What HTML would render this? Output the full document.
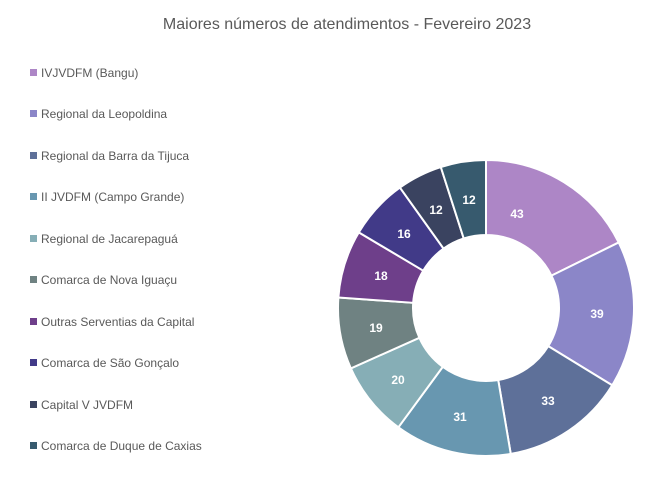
<!DOCTYPE html>
<html><head><meta charset="utf-8"><style>
body{margin:0;width:666px;height:491px;background:#fff;font-family:"Liberation Sans",sans-serif;overflow:hidden;position:relative}
.t{position:absolute;top:16px;left:0;width:666px;text-align:center;font-size:16px;color:#595959;padding-left:28px;box-sizing:border-box}
.lg{position:absolute;left:30px;font-size:12px;color:#595959}
.lg i{display:inline-block;width:7px;height:7px;margin-right:4px;vertical-align:1px}
svg{position:absolute;left:0;top:0}
</style></head><body>
<div class="t">Maiores números de atendimentos - Fevereiro 2023</div>
<div class="lg" style="top:66px"><i style="background:#AD86C6"></i>IVJVDFM (Bangu)</div>
<div class="lg" style="top:107px"><i style="background:#8B86C8"></i>Regional da Leopoldina</div>
<div class="lg" style="top:149px"><i style="background:#5E7099"></i>Regional da Barra da Tijuca</div>
<div class="lg" style="top:190px"><i style="background:#6897B0"></i>II JVDFM (Campo Grande)</div>
<div class="lg" style="top:232px"><i style="background:#86AEB6"></i>Regional de Jacarepaguá</div>
<div class="lg" style="top:273px"><i style="background:#6F8282"></i>Comarca de Nova Iguaçu</div>
<div class="lg" style="top:315px"><i style="background:#6E3F8A"></i>Outras Serventias da Capital</div>
<div class="lg" style="top:356px"><i style="background:#413A88"></i>Comarca de São Gonçalo</div>
<div class="lg" style="top:398px"><i style="background:#3A4360"></i>Capital V JVDFM</div>
<div class="lg" style="top:439px"><i style="background:#375A6E"></i>Comarca de Duque de Caxias</div>
<svg width="666" height="491" id="s">
<g id="p"></g>
<g font-size="12" font-weight="bold" fill="#fff" text-anchor="middle" font-family="Liberation Sans,sans-serif">
<text x="517" y="218">43</text><text x="597" y="318">39</text><text x="548" y="405">33</text>
<text x="460" y="421">31</text><text x="398" y="384">20</text><text x="376" y="332">19</text>
<text x="381" y="280">18</text><text x="404" y="238">16</text><text x="436" y="214">12</text>
<text x="469" y="204">12</text></g>
</svg>
<script>
var v=[43,39,33,31,20,19,18,16,12,12],c=["#AD86C6","#8B86C8","#5E7099","#6897B0","#86AEB6","#6F8282","#6E3F8A","#413A88","#3A4360","#375A6E"];
var cx=486,cy=308,R=148,r=73,T=243,a=0,g=document.getElementById('p'),h='';
function pt(rad,an){return [cx+rad*Math.sin(an),cy-rad*Math.cos(an)];}
for(var i=0;i<v.length;i++){var b=a+v[i]/T*2*Math.PI,l=(b-a)>Math.PI?1:0;
var p1=pt(R,a),p2=pt(R,b),p3=pt(r,b),p4=pt(r,a);
h+='<path d="M'+p1+' A'+R+' '+R+' 0 '+l+' 1 '+p2+' L'+p3+' A'+r+' '+r+' 0 '+l+' 0 '+p4+'Z" fill="'+c[i]+'" stroke="#fff" stroke-width="2"/>';a=b;}
g.innerHTML=h;
</script>
</body></html>
